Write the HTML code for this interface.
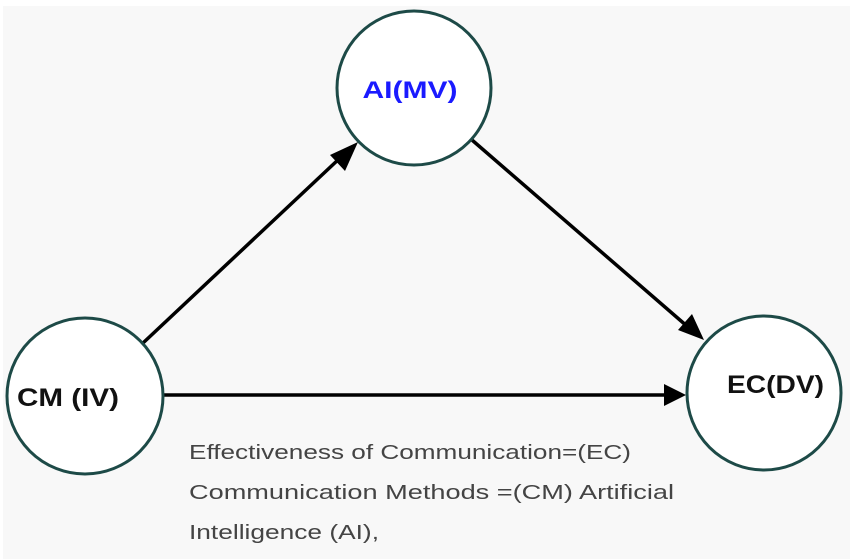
<!DOCTYPE html>
<html><head><style>
html,body{margin:0;padding:0;background:#fff;}
svg{display:block;}
</style></head><body>
<svg width="850" height="559" viewBox="0 0 850 559" xmlns="http://www.w3.org/2000/svg">
<rect x="3" y="6" width="847" height="553" fill="#f8f8f8"/>
<line x1="143" y1="343" x2="340" y2="158" stroke="#000" stroke-width="3.5"/>
<polygon points="358,142 330,155 345,171" fill="#000"/>
<line x1="472" y1="140" x2="688" y2="327" stroke="#000" stroke-width="3.5"/>
<polygon points="704,340 678,330 692,314" fill="#000"/>
<line x1="164" y1="395" x2="665" y2="395" stroke="#000" stroke-width="3.5"/>
<polygon points="686,395 664,384 664,406" fill="#000"/>
<circle cx="414" cy="88" r="77" fill="#fff" stroke="#1d4a47" stroke-width="3"/>
<circle cx="85" cy="396" r="78" fill="#fff" stroke="#1d4a47" stroke-width="3"/>
<circle cx="764" cy="393" r="77" fill="#fff" stroke="#1d4a47" stroke-width="3"/>
<text x="410" y="98" text-anchor="middle" font-family="Liberation Sans, sans-serif" font-weight="bold" font-size="24" fill="#1a1aff" textLength="95" lengthAdjust="spacingAndGlyphs">AI(MV)</text>
<text x="17" y="406" font-family="Liberation Sans, sans-serif" font-weight="bold" font-size="25" fill="#111" textLength="102" lengthAdjust="spacingAndGlyphs">CM (IV)</text>
<text x="727" y="393" font-family="Liberation Sans, sans-serif" font-weight="bold" font-size="25" fill="#111" textLength="97" lengthAdjust="spacingAndGlyphs">EC(DV)</text>
<g font-family="Liberation Sans, sans-serif" font-size="20" fill="#444">
<text x="189" y="459" textLength="442" lengthAdjust="spacingAndGlyphs">Effectiveness of Communication=(EC)</text>
<text x="189" y="499" textLength="485" lengthAdjust="spacingAndGlyphs">Communication Methods =(CM) Artificial</text>
<text x="189" y="539" textLength="190" lengthAdjust="spacingAndGlyphs">Intelligence (AI),</text>
</g>
</svg>
</body></html>
